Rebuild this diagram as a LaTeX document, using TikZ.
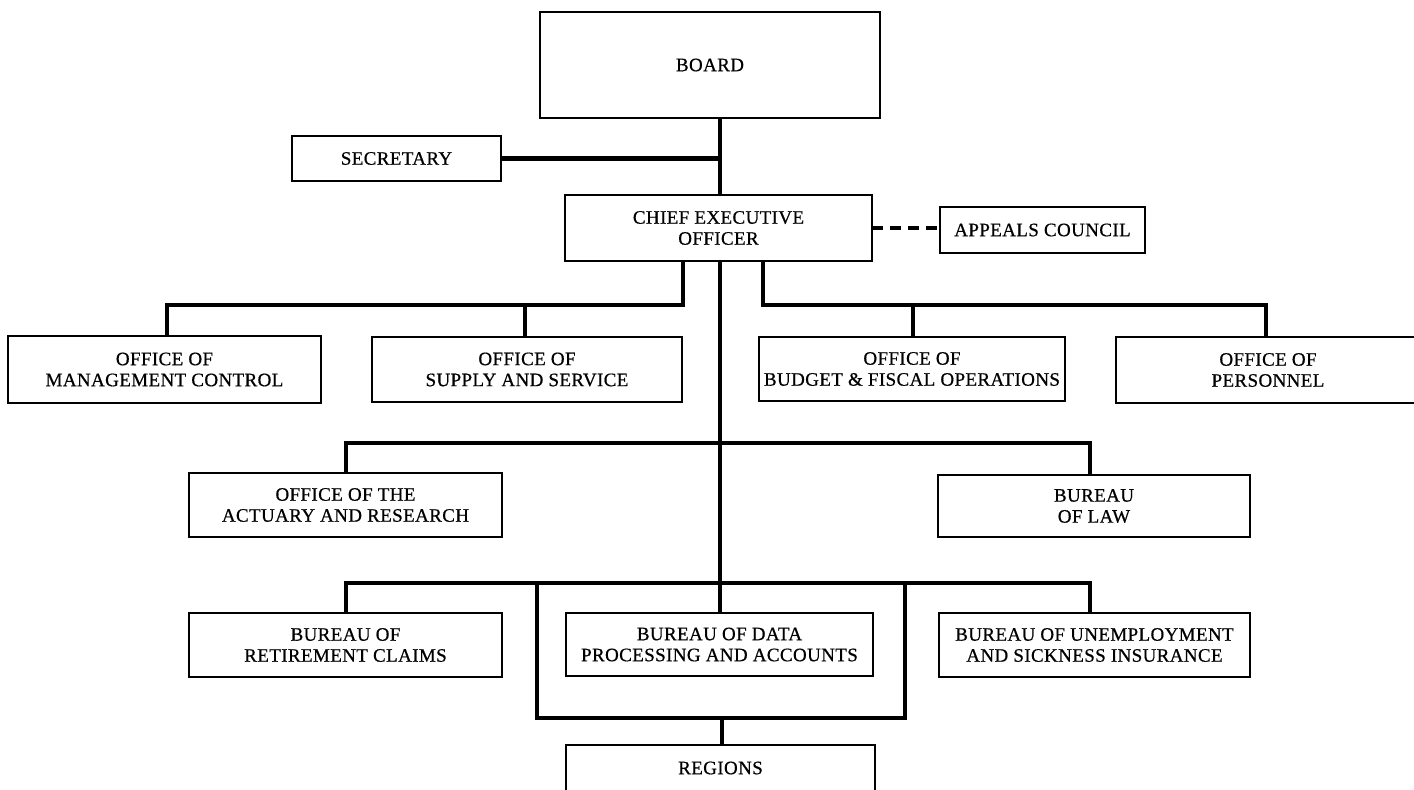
\documentclass[tikz,border=0pt]{standalone}
\usepackage{fontspec}
\setmainfont{Liberation Serif}
\newfontfamily\chartfont{Liberation Serif}[FakeBold=0.6,LetterSpace=2]
\begin{document}
\begin{tikzpicture}[x=1pt,y=-1pt,
  box/.style={draw=black,line width=1.8pt,fill=white,inner sep=0pt,outer sep=0pt,
    align=center,font=\chartfont\fontsize{19}{21}\selectfont},
  conn/.style={draw=black,line width=4.5pt,line join=miter},
  dashconn/.style={draw=black,line width=4pt,dash pattern=on 11pt off 7pt}]
\clip (0,0) rectangle (1414,790);
\fill[white] (0,0) rectangle (1414,790);
% coordinates for buses
\coordinate (m) at (720,0);
\coordinate (lb1) at (683,305);
\coordinate (lb2) at (167,305);
\coordinate (lb3) at (525,305);
\coordinate (rb1) at (763,305);
\coordinate (rb2) at (1266,305);
\coordinate (rb3) at (913,305);
\coordinate (mb1) at (346,443);
\coordinate (mb2) at (1090,443);
\coordinate (bb1) at (346,583);
\coordinate (bb2) at (1090,583);
\coordinate (br1) at (537,583);
\coordinate (br2) at (537,718);
\coordinate (br3) at (905,718);
\coordinate (br4) at (905,583);
\coordinate (rg) at (722,718);
\node[box,minimum width=340pt,minimum height=106pt] (board) at (710,65) {BOARD};
\node[box,minimum width=209pt,minimum height=45pt] (sec) at (396.5,158.5) {SECRETARY};
\node[box,minimum width=307pt,minimum height=66pt] (ceo) at (718.5,228) {CHIEF EXECUTIVE\\OFFICER};
\node[box,minimum width=205pt,minimum height=46pt] (app) at (1042.5,230) {APPEALS COUNCIL};
\node[box,minimum width=313pt,minimum height=67pt] (mc) at (164.5,369.5) {OFFICE OF\\MANAGEMENT CONTROL};
\node[box,minimum width=310pt,minimum height=65pt] (ss) at (527,369.5) {OFFICE OF\\SUPPLY AND SERVICE};
\node[box,minimum width=306pt,minimum height=64pt] (bf) at (912,369) {OFFICE OF\\BUDGET \& FISCAL OPERATIONS};
\node[box,minimum width=304pt,minimum height=66pt] (pe) at (1268,370) {OFFICE OF\\PERSONNEL};
\node[box,minimum width=313pt,minimum height=64pt] (ac) at (345.5,505) {OFFICE OF THE\\ACTUARY AND RESEARCH};
\node[box,minimum width=312pt,minimum height=62pt] (law) at (1094,506) {BUREAU\\OF LAW};
\node[box,minimum width=313pt,minimum height=64pt] (ret) at (345.5,645) {BUREAU OF\\RETIREMENT CLAIMS};
\node[box,minimum width=307pt,minimum height=63pt] (dp) at (719.5,644.5) {BUREAU OF DATA\\PROCESSING AND ACCOUNTS};
\node[box,minimum width=311pt,minimum height=64pt] (un) at (1094.5,645) {BUREAU OF UNEMPLOYMENT\\AND SICKNESS INSURANCE};
\node[box,minimum width=309pt,minimum height=90pt] (reg) at (720.5,790) {};
\node[font=\chartfont\fontsize{19}{21}\selectfont,inner sep=0pt] (regt) at (720.5,768) {REGIONS};
\draw[conn] (board.south -| m) -- (ceo.north -| m);
\draw[conn] (sec.east) -- (sec.east -| m);
\draw[dashconn] (ceo.east) -- (ceo.east -| app.west);
\draw[conn] (ceo.south -| lb1) -- (lb1) -- (lb2) -- (mc.north -| lb2);
\draw[conn] (lb3) -- (ss.north -| lb3);
\draw[conn] (ceo.south -| rb1) -- (rb1) -- (rb2) -- (pe.north -| rb2);
\draw[conn] (rb3) -- (bf.north -| rb3);
\draw[conn] (ceo.south -| m) -- (dp.north -| m);
\draw[conn] (ac.north -| mb1) -- (mb1) -- (mb2) -- (law.north -| mb2);
\draw[conn] (ret.north -| bb1) -- (bb1) -- (bb2) -- (un.north -| bb2);
\draw[conn] (br1) -- (br2) -- (br3) -- (br4);
\draw[conn] (rg) -- (reg.north -| rg);
\end{tikzpicture}
\end{document}
